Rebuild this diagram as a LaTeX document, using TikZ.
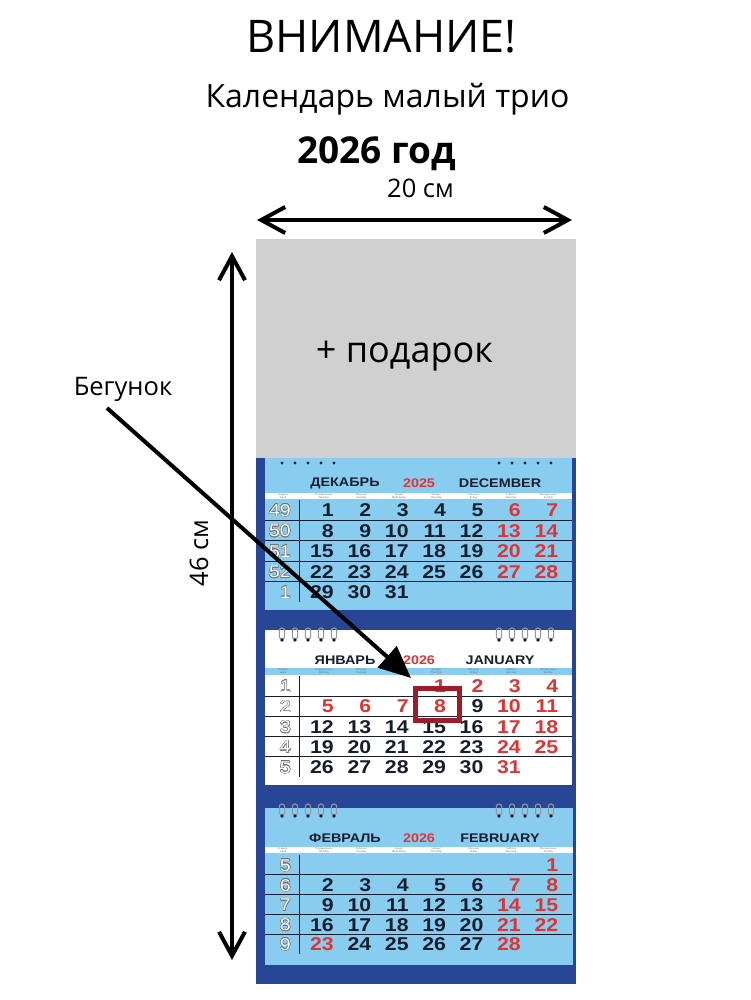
\documentclass[tikz,border=0pt]{standalone}
\usepackage{fontspec}
\setmainfont{Open Sans}
\newfontfamily\calfont[FakeStretch=1.15]{Liberation Sans}
\usepackage{contour}
\contourlength{0.45pt}
\usetikzlibrary{arrows.meta}
\definecolor{calblue}{RGB}{40,70,150}
\definecolor{skyblue}{RGB}{136,205,240}
\definecolor{giftgray}{RGB}{208,208,208}
\definecolor{dayred}{RGB}{222,52,52}
\definecolor{dayblack}{RGB}{22,30,46}
\definecolor{boxred}{RGB}{160,26,40}
\definecolor{ringgray}{RGB}{150,150,158}
\begin{document}
\begin{tikzpicture}[x=1pt, y=-1pt,
  every node/.style={inner sep=0pt},
  dim/.style={line width=4pt, {Straight Barb[length=24pt,width=26pt]}-{Straight Barb[length=24pt,width=26pt]}},
  pointer/.style={line width=4pt, -{Triangle[length=32pt,width=28pt]}},
  bigtitle/.style={font=\fontsize{45}{50}\selectfont},
  subtitle/.style={font=\fontsize{32}{36}\selectfont},
  yeartitle/.style={font=\bfseries\fontsize{37}{42}\selectfont},
  sizetext/.style={font=\fontsize{25.5}{30}\selectfont},
  gifttext/.style={font=\fontsize{36}{40}\selectfont},
  monthhead/.style={font=\calfont\bfseries\fontsize{12.5}{13}\selectfont, text=dayblack},
  daynum/.style={font=\calfont\bfseries\fontsize{18.5}{18}\selectfont, anchor=base east},
  weeknum/.style={font=\calfont\fontsize{17}{17}\selectfont, anchor=base east, text=white},
  dayname/.style={font=\fontsize{2.6}{2.9}\selectfont, align=center, text=black!60},
  rowline/.style={dayblack, line width=0.9pt},
  ring/.style={ringgray, line width=1.1pt, rounded corners=2.4pt}]
\fill[white] (0,0) rectangle (750,1000);

% titles
\node[bigtitle, anchor=base] (attention) at (381.5,53) {ВНИМАНИЕ!};
\node[subtitle, anchor=base] (product) at (387.5,108) {Календарь малый трио};
\node[yeartitle, anchor=base] (year) at (376.5,164) {2026 год};

% calendar body
\fill[calblue] (256,458) rectangle (576,984);
\fill[skyblue] (265,458) rectangle (572,610);
\fill[white] (265,630) rectangle (572,785);
\fill[skyblue] (265,808) rectangle (573,965);
\fill[white] (265,493) rectangle (572,499);
\fill[skyblue] (265,668) rectangle (572,675);
\fill[white] (265,847) rectangle (573,853);

% rings
\foreach \rx in {282,295,308,321,334,499,512,525,538,551} {
  \fill[dayblack] (\rx,463) circle (1.7);
  \foreach \ry in {634,810} {
    \draw[ring] (\rx-2.6,\ry-6) rectangle (\rx+2.6,\ry+5);
    \fill[dayblack] (\rx,\ry+6) circle (1.8);
  }
}

% month headers
\foreach \m/\hy/\ru/\yr/\en in {dec/483/ДЕКАБРЬ/2025/DECEMBER, jan/660/ЯНВАРЬ/2026/JANUARY, feb/838/ФЕВРАЛЬ/2026/FEBRUARY} {
  \node[monthhead] (\m-ru) at (345,\hy) {\ru};
  \node[monthhead, text=dayred] (\m-yr) at (419,\hy) {\yr};
  \node[monthhead] (\m-en) at (500,\hy) {\en};
}

% month grids
\foreach \m/\y/\s/\off/\n/\hol/\wk/\sy in
  {dec/510/20.5/1/31/0/{49,50,51,52,1}/496,
   jan/686/20.25/4/31/{\d<9}/{1,...,5}/671.5,
   feb/865/19.8/7/28/{\d==23}/{5,...,9}/850} {
  \foreach \r in {1,...,4}
    \draw[rowline] (265,{\y+\s*(\r-0.5)}) -- (572,{\y+\s*(\r-0.5)});
  \draw[rowline] (299,{\y-\s/2}) -- (299,{\y+\s*4.5});
  \node[dayname] (\m-wkname) at (283,\sy) {Неделя\\week};
  \foreach \nm [count=\c from 0] in {{Понедельник\\Monday},{Вторник\\Tuesday},{Среда\\Wednesday},{Четверг\\Thursday},{Пятница\\Friday},{Суббота\\Saturday},{Воскресенье\\Sunday}}
    \node[dayname] (\m-name\c) at ({324+37.4*\c},\sy) {\nm};
  \foreach \w [count=\r from 0] in \wk
    \node[weeknum] (\m-wk\r) at (291,{\y+\s*\r+6.2}) {\contour{black!55}{\w}};
  \foreach \d in {1,...,\n} {
    \pgfmathtruncatemacro\pos{\d+\off-2}
    \pgfmathtruncatemacro\col{mod(\pos,7)}
    \pgfmathtruncatemacro\row{div(\pos,7)}
    \pgfmathtruncatemacro\isred{(\col>4)||(\hol)}
    \ifnum\isred=1 \def\dc{dayred}\else\def\dc{dayblack}\fi
    \node[daynum, text=\dc] (\m-\d) at ({334+37.4*\col},{\y+\s*\row+6.6}) {\d};
  }
}

% gift block
\node[fill=giftgray, minimum width=320, minimum height=219] (gift) at (416,348.5) {};
\node[gifttext, anchor=base] (giftlabel) at (404.5,362) {+ подарок};

% slider
\node[draw=boxred, line width=5pt, minimum width=44, minimum height=32] (slider) at (437.5,704.5) {};

% sizes
\coordinate (wl) at (257,220);
\coordinate (wr) at (572,220);
\draw[dim] (wl) -- (wr);
\node[sizetext, anchor=base] (width) at (420.5,198) {20 см};
\coordinate (ht) at (232,252);
\coordinate (hb) at (232,960);
\draw[dim] (ht) -- (hb);
\node[sizetext, anchor=base, rotate=90] (height) at (208,553) {46 см};

% runner
\node[sizetext, anchor=base] (runner) at (123,395) {Бегунок};
\coordinate (runstart) at (107,408);
\draw[pointer] (runstart) -- ([shift={(-2,-8)}]slider.north west);
\end{tikzpicture}
\end{document}
